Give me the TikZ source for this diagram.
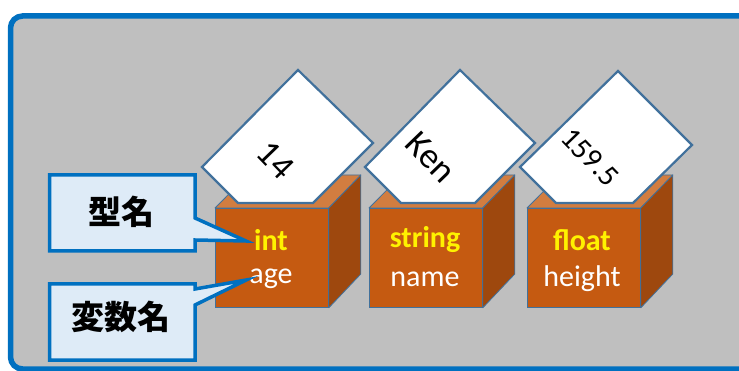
\documentclass[tikz,border=0pt]{standalone}
\usepackage{fontspec}
\setmainfont{Carlito}
\newfontfamily\cjk{Noto Sans CJK JP}
\usetikzlibrary{calc}

\definecolor{panelgray}{HTML}{BFBFBF}
\definecolor{panelblue}{HTML}{0070C0}
\definecolor{edgeblue}{HTML}{41719C}
\definecolor{boxfront}{HTML}{C55A11}
\definecolor{boxtop}{HTML}{D27D40}
\definecolor{boxside}{HTML}{9E480E}
\definecolor{calloutfill}{HTML}{DEEBF7}

\tikzset{
  panel/.style={draw=panelblue, line width=5.5pt, fill=panelgray, rounded corners=12pt},
  front/.style={draw=edgeblue, line width=0.8pt, fill=boxfront, inner sep=0pt,
                minimum width=113pt, minimum height=99pt, anchor=north west},
  topface/.style={draw=edgeblue, line width=0.8pt, fill=boxtop, line join=round},
  sideface/.style={draw=edgeblue, line width=0.8pt, fill=boxside, line join=round},
  card/.style={draw=edgeblue, line width=2.2pt, fill=white, line join=miter},
  cardtext/.style={font=\fontsize{36}{36}\selectfont, rotate=-46, inner sep=0pt},
  typename/.style={font=\fontsize{30}{30}\selectfont\bfseries, text=yellow, inner sep=0pt},
  varname/.style={font=\fontsize{30}{30}\selectfont, text=white, inner sep=0pt},
  callout/.style={draw=panelblue, line width=3.5pt, fill=calloutfill, line join=miter, miter limit=20},
  callouttext/.style={font=\cjk\bfseries\fontsize{33}{33}\selectfont, inner sep=0pt},
}

\begin{document}
\begin{tikzpicture}[x=1pt, y=-1pt]
\useasboundingbox (0,0) rectangle (739,371);

% grey panel, running past the right and bottom edges
\begin{scope}
  \clip (0,0) rectangle (739,371);
  \draw[panel] (10.5,16) rectangle (790,369);
\end{scope}

% --- box 1: int age / card 14 ---
\node[front] (box1) at (215,208) {};
\draw[topface] (box1.north east) -- ++(32,-33) -- ++(-113,0) -- (box1.north west) -- cycle;
\draw[card] (298,70) -- (373,143) -- (313,203) -- (238,203) -- (202,167) -- cycle;
\node[front] at (215,208) {};
\draw[sideface] (box1.north east) -- ++(32,-33) -- ++(0,99) -- (box1.south east) -- cycle;
\node[cardtext] (val1) at (276,160) {14};
\node[typename] (type1) at (271,240) {int};
\node[varname] (var1) at (271,279) {age};

% --- box 2: string name / card Ken ---
\node[front] (box2) at (369,208) {};
\draw[topface] (box2.north east) -- ++(32,-33) -- ++(-113,0) -- (box2.north west) -- cycle;
\draw[card] (460,70) -- (535,143) -- (475,203) -- (401,203) -- (365,167) -- cycle;
\node[front] at (369,208) {};
\draw[sideface] (box2.north east) -- ++(32,-33) -- ++(0,99) -- (box2.south east) -- cycle;
\node[cardtext] (val2) at (431,157) {Ken};
\node[typename] (type2) at (425,240) {string};
\node[varname] (var2) at (425,279) {name};

% --- box 3: float height / card 159.5 ---
\node[front] (box3) at (527,208) {};
\draw[topface] (box3.north east) -- ++(32,-33) -- ++(-113,0) -- (box3.north west) -- cycle;
\draw[card] (618,71) -- (692,145) -- (633,203) -- (556,203) -- (520,167) -- cycle;
\node[front] at (527,208) {};
\draw[sideface] (box3.north east) -- ++(32,-33) -- ++(0,99) -- (box3.south east) -- cycle;
\node[cardtext, font=\fontsize{30}{30}\selectfont] (val3) at (590,157) {159.5};
\node[typename] (type3) at (582,240) {float};
\node[varname] (var3) at (582,279) {height};

% --- callouts ---
\coordinate (tip1) at ($(type1.west)+(-8,1)$);
\coordinate (tip2) at ($(var1.west)+(-3,1)$);
\draw[callout] (49.5,175) -- (195,175) -- (195,218) -- (tip1) -- (195,240)
  -- (195,251) -- (49.5,251) -- cycle;
\node[callouttext] (lbl1) at (121,212) {型名};
\draw[callout] (49.5,284) -- (195,284) -- (195,289) -- (tip2) -- (195,305)
  -- (195,360) -- (49.5,360) -- cycle;
\node[callouttext] (lbl2) at (121,317) {変数名};
\end{tikzpicture}
\end{document}
